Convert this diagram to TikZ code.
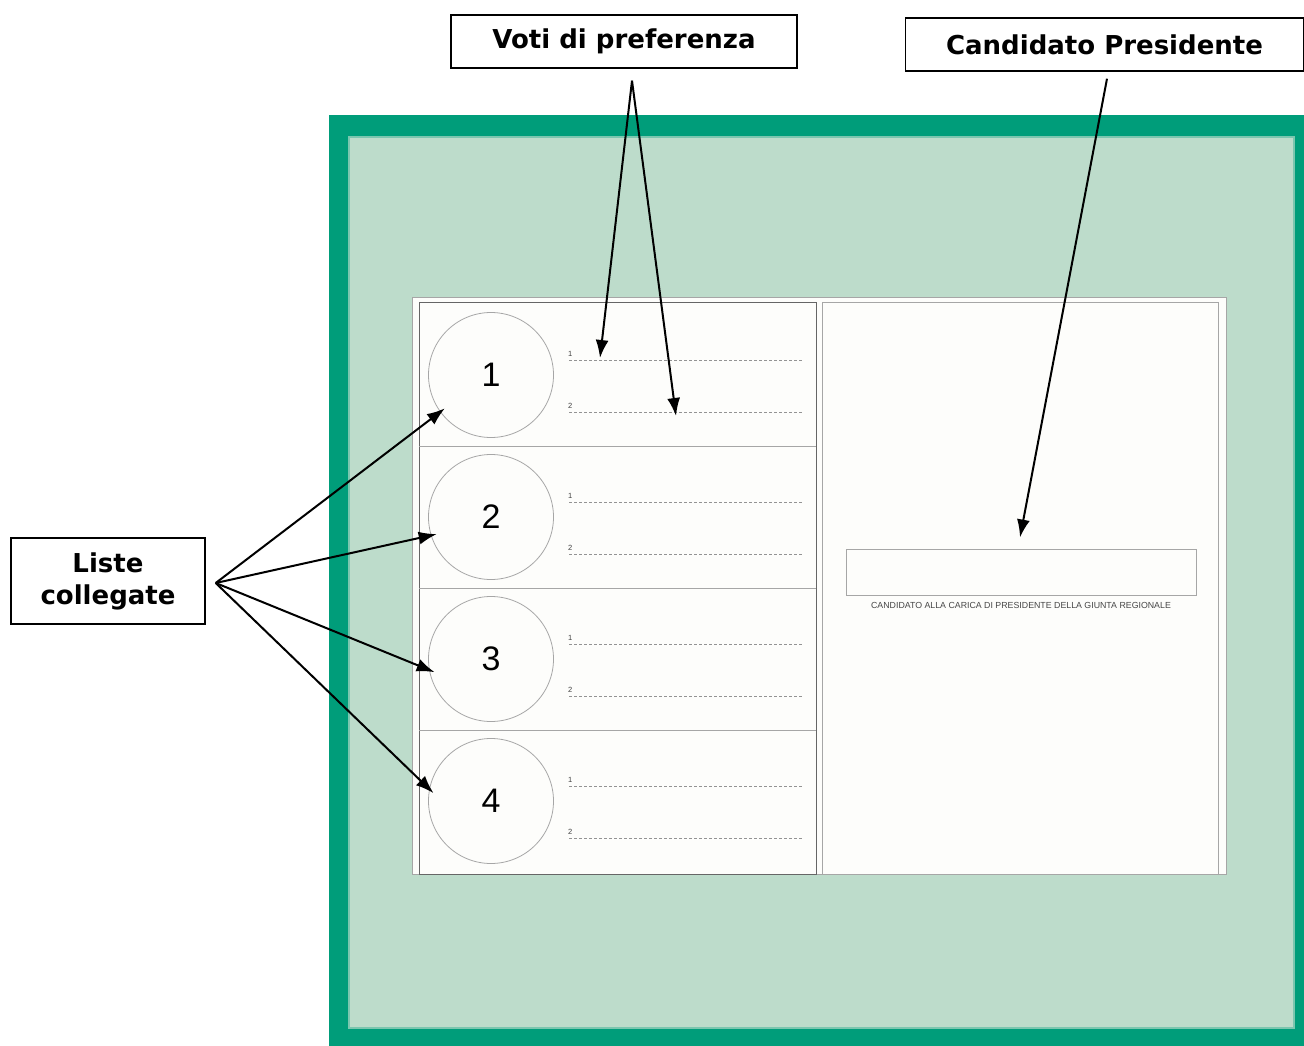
\documentclass[tikz,border=0pt]{standalone}
\usepackage{fontspec}
\setmainfont{DejaVu Sans}
\newfontfamily\ballotfont{Liberation Sans}
\usepackage{tikz}
\usetikzlibrary{arrows.meta, positioning, shapes}
\definecolor{framegreen}{RGB}{0,157,122}
\definecolor{panegreen}{RGB}{189,220,203}
\definecolor{paper}{RGB}{253,253,251}

\begin{document}
\begin{tikzpicture}[x=1pt, y=-1pt,
	callout/.style={draw, line width=1.4pt, fill=white, inner sep=0pt, align=center, font=\bfseries\fontsize{26}{32}\selectfont},
	pointer/.style={-{Latex[length=18pt, width=13pt]}, line width=2pt},
	listcircle/.style={circle, draw=gray!70, line width=0.8pt, minimum size=125pt, inner sep=0pt, font=\ballotfont\fontsize{34}{34}\selectfont},
	voteline/.style={draw=gray!85, line width=0.9pt, dash pattern=on 3pt off 2pt},
	linelabel/.style={font=\ballotfont\fontsize{7.5}{7.5}\selectfont, text=gray!50!black, inner sep=0pt, anchor=south west}
	]
	\useasboundingbox (0,0) rectangle (1304,1046);
	\fill[framegreen] (329,115) rectangle (1304,1046);
	\filldraw[fill=panegreen, draw=framegreen!35!panegreen, line width=1.5pt] (349,137) rectangle (1294,1028);

	\filldraw[fill=paper, draw=gray!70, line width=1pt] (412,297) rectangle (1226,874);
	\draw[gray!80!black, line width=1pt] (419,302) rectangle (816,874);
	\draw[gray!70, line width=1pt] (822,302) rectangle (1218,874);
	\foreach \y in {446,588,730}
		\draw[gray!70, line width=1pt] (419,\y) -- (816,\y);
	\foreach \n/\y in {1/375,2/517,3/659,4/801}{
		\node[listcircle] (c\n) at (491,\y) {\n};
		\draw[voteline] (569,\y-15) -- (802,\y-15);
		\draw[voteline] (569,\y+37) -- (802,\y+37);
		\node[linelabel] at (568,\y-18) {1};
		\node[linelabel] at (568,\y+34) {2};
	}
	\node[draw=gray!70, line width=1pt, minimum width=350pt, minimum height=46pt, inner sep=0pt] (cand) at (1021,572) {};
	\node[below=7pt of cand, inner sep=0pt, text=gray!55!black, font=\ballotfont\fontsize{8.8}{9}\selectfont] (candcap) {CANDIDATO ALLA CARICA DI PRESIDENTE DELLA GIUNTA REGIONALE};

	\node[callout, minimum width=346pt, minimum height=53pt] (voti) at (624,41.5) {Voti di preferenza};
	\node[callout, minimum width=398pt, minimum height=53pt] (pres) at (1104.5,44.5) {Candidato Presidente};
	\node[callout, minimum width=194pt, minimum height=86pt] (liste) at (108,581) {Liste\\collegate};

	\coordinate (vstart) at ([xshift=8pt, yshift=-12pt]voti.south);
	\coordinate (vt1) at (600,358);
	\coordinate (vt2) at (676,416);
	\coordinate (pstart) at ([xshift=2.5pt, yshift=-7pt]pres.south);
	\coordinate (pend) at ([xshift=-1pt, yshift=11pt]cand.north);
	\coordinate (lstart) at ([xshift=10pt, yshift=-2pt]liste.east);

	\draw[pointer] (vstart) -- (vt1);
	\draw[pointer] (vstart) -- (vt2);
	\draw[pointer] (pstart) -- (pend);
	\foreach \n/\a in {1/216,2/197,3/190,4/169}
		\draw[pointer, shorten >=-6pt] (lstart) -- (c\n.\a);
\end{tikzpicture}
\end{document}
